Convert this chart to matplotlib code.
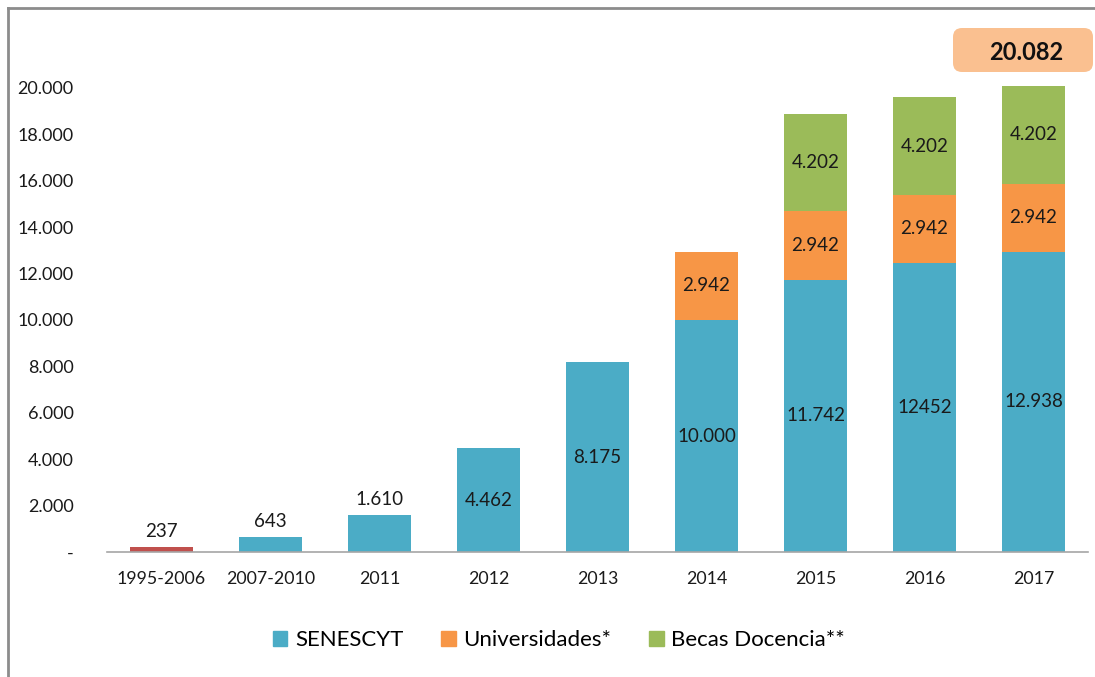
import matplotlib
matplotlib.use("Agg")
import matplotlib.pyplot as plt
from matplotlib.lines import Line2D
from matplotlib.patches import Patch, FancyBboxPatch
from matplotlib.transforms import IdentityTransform
import numpy as np

# datos
categorias = ["1995-2006", "2007-2010", "2011", "2012", "2013", "2014", "2015", "2016", "2017"]
senescyt = [237, 643, 1610, 4462, 8175, 10000, 11742, 12452, 12938]
universidades = [0, 0, 0, 0, 0, 2942, 2942, 2942, 2942]
becas = [0, 0, 0, 0, 0, 0, 4202, 4202, 4202]
etq_senescyt = ["237", "643", "1.610", "4.462", "8.175", "10.000", "11.742", "12452", "12.938"]
etq_univ = ["", "", "", "", "", "2.942", "2.942", "2.942", "2.942"]
etq_becas = ["", "", "", "", "", "", "4.202", "4.202", "4.202"]
total_2017 = "20.082"
yticks = [0, 2000, 4000, 6000, 8000, 10000, 12000, 14000, 16000, 18000, 20000]
ytick_labels = ["-", "2.000", "4.000", "6.000", "8.000", "10.000", "12.000",
                "14.000", "16.000", "18.000", "20.000"]

C_SEN = "#4BACC6"
C_UNI = "#F79646"
C_BEC = "#9BBB59"
C_ROJO = "#C0504D"

plt.rcParams['font.family'] = ['Lato', 'DejaVu Sans']

fig = plt.figure(figsize=(10.95, 6.77), dpi=100)
ax = fig.add_axes([107/1095, 1 - 552/677, 981/1095, (552 - 41.6)/677])

x = np.arange(len(categorias))
w = 0.57
sen = np.array(senescyt)
uni = np.array(universidades)
bec = np.array(becas)

colores_sen = [C_ROJO] + [C_SEN] * (len(categorias) - 1)
ax.bar(x, sen, w, color=colores_sen, zorder=2)
ax.bar(x, uni, w, bottom=sen, color=C_UNI, zorder=2)
ax.bar(x, bec, w, bottom=sen + uni, color=C_BEC, zorder=2)

fs = 13.5
for i in range(len(categorias)):
    if sen[i] < 3000:
        ax.text(x[i], sen[i] + 300, etq_senescyt[i], ha='center', va='bottom',
                fontsize=fs, color='#1a1a1a')
    else:
        ax.text(x[i], sen[i] / 2, etq_senescyt[i], ha='center', va='center',
                fontsize=fs, color='#1a1a1a')
    if uni[i] > 0:
        ax.text(x[i], sen[i] + uni[i] / 2, etq_univ[i], ha='center', va='center',
                fontsize=fs, color='#1a1a1a')
    if bec[i] > 0:
        ax.text(x[i], sen[i] + uni[i] + bec[i] / 2, etq_becas[i], ha='center',
                va='center', fontsize=fs, color='#1a1a1a')

# total 2017, caja redondeada (pixeles)
caja = FancyBboxPatch((953, 677 - 72), 140, 44,
                      boxstyle='round,pad=0,rounding_size=9',
                      fc='#FAC090', ec='none', transform=IdentityTransform(),
                      clip_on=False, zorder=3)
ax.add_artist(caja)
ax.text(x[-1] - 0.07, 21530, total_2017, ha='center', va='center', fontsize=17,
        fontweight='bold', color='#111111', clip_on=False, zorder=5)

ax.set_xlim(-0.5, len(categorias) - 0.5)
ax.set_ylim(0, 22000)
ax.set_yticks(yticks)
ax.set_yticklabels(ytick_labels)
ax.set_xticks(x)
ax.set_xticklabels(categorias)
ax.tick_params(axis='y', length=0, pad=24, labelsize=13, labelcolor='#1a1a1a')
ax.tick_params(axis='x', length=0, pad=14, labelsize=12.8, labelcolor='#1a1a1a')
for s in ['top', 'right', 'left']:
    ax.spines[s].set_visible(False)
ax.spines['bottom'].set_color('#A6A6A6')
ax.spines['bottom'].set_linewidth(1.2)

handles = [Patch(color=C_SEN), Patch(color=C_UNI), Patch(color=C_BEC)]
fig.legend(handles, ["SENESCYT", "Universidades*", "Becas Docencia**"],
           loc='center', bbox_to_anchor=(559/1095, 1 - 640/677), ncol=3,
           frameon=False, fontsize=16, handlelength=0.65, handleheight=0.65,
           handletextpad=0.35, columnspacing=1.7)

# marco gris
fig.add_artist(Line2D([8/1095, 1], [1 - 8/677, 1 - 8/677], color='#8C8C8C', lw=2,
                      transform=fig.transFigure))
fig.add_artist(Line2D([8/1095, 8/1095], [0, 1 - 8/677], color='#8C8C8C', lw=2,
                      transform=fig.transFigure))

fig.savefig("out.png", dpi=100)
